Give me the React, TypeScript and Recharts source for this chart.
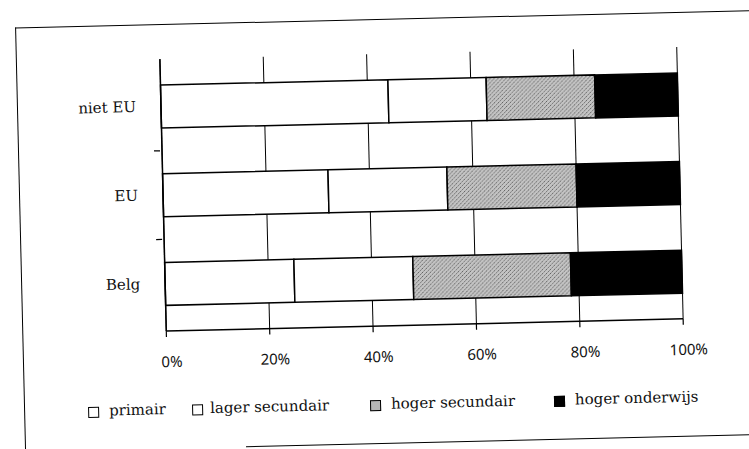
import React from 'react';
import { BarChart, Bar, XAxis, YAxis, CartesianGrid } from 'recharts';

// origin groups, top to bottom
const groups = ['niet EU', 'EU', 'Belg'];

// share per education level (%)
const primair = [44, 32, 25];
const lagerSecundair = [19, 23, 23];
const hogerSecundair = [21, 25, 30.5];
const hogerOnderwijs = [16, 20, 21.5];

const xTicks = [0, 20, 40, 60, 80, 100];

const levels = [
  { key: 'primair', label: 'primair', fill: '#ffffff' },
  { key: 'lagerSecundair', label: 'lager secundair', fill: '#ffffff' },
  { key: 'hogerSecundair', label: 'hoger secundair', fill: 'url(#stipple)' },
  { key: 'hogerOnderwijs', label: 'hoger onderwijs', fill: '#000000' },
];

const chartData = groups.map((name, i) => ({
  name,
  primair: primair[i],
  lagerSecundair: lagerSecundair[i],
  hogerSecundair: hogerSecundair[i],
  hogerOnderwijs: hogerOnderwijs[i],
}));

const serif = '"DejaVu Serif", "Liberation Serif", serif';
const sans = '"Noto Sans", "DejaVu Sans", sans-serif';

const GroupTick = (props: any) => {
  const { x, y, payload } = props;
  const half = payload && payload.offset ? payload.offset : 44;
  return (
    <g>
      <text x={x - 17} y={y} dy={5} textAnchor="end" fontFamily={serif} fontSize={15} fill="#111">
        {payload.value}
      </text>
      {props.index < groups.length - 1 && (
        <line x1={x + 0} x2={x + 6} y1={y + half} y2={y + half} stroke="#000" strokeWidth={1.2} />
      )}
    </g>
  );
};

const PercentTick = (props: any) => {
  const { x, y, payload } = props;
  return (
    <text x={x + 5} y={y} dy={28} textAnchor="middle" fontFamily={sans} fontSize={15} fill="#111">
      {payload.value}%
    </text>
  );
};

// legend positions
const legendItems = [
  { label: levels[0].label, icon: 83, text: 104, fill: '#fff' },
  { label: levels[1].label, icon: 187, text: 205, fill: '#fff' },
  { label: levels[2].label, icon: 365, text: 386, fill: '#b5b5b5' },
  { label: levels[3].label, icon: 549, text: 570, fill: '#000' },
];

const LegendRow = () => (
  <div style={{ position: 'absolute', left: 0, top: 392, width: 749, height: 24 }}>
    {legendItems.map((it) => (
      <React.Fragment key={it.label}>
        <span
          style={{
            position: 'absolute',
            left: it.icon,
            top: 7,
            width: 9,
            height: 9,
            border: '1px solid #000',
            background: it.fill,
          }}
        />
        <span
          style={{
            position: 'absolute',
            left: it.text,
            top: 0,
            whiteSpace: 'nowrap',
            fontFamily: serif,
            fontSize: 15,
            lineHeight: '22px',
            color: '#111',
          }}
        >
          {it.label}
        </span>
      </React.Fragment>
    ))}
  </div>
);

export default function App() {
  return (
    <div style={{ position: 'absolute', left: 0, top: 0, width: 749, height: 449, background: '#fff', overflow: 'hidden' }}>
      {/* the scan is tilted a little */}
      <div
        style={{
          position: 'absolute',
          left: 0,
          top: 0,
          width: 749,
          height: 449,
          transform: 'rotate(-1.35deg)',
          transformOrigin: '421px 189px',
        }}
      >
        <div style={{ position: 'absolute', left: 19, top: 18, width: 760, height: 480, borderLeft: '1.5px solid #000', borderTop: '1.5px solid #000' }} />
        <div style={{ position: 'absolute', left: 240, top: 442, width: 540, borderTop: '1.5px solid #000' }} />
        <div style={{ position: 'absolute', left: 0, top: 0 }}>
          <BarChart
            width={749}
            height={449}
            data={chartData}
            layout="vertical"
            barSize={43}
            margin={{ top: 53, right: 69, bottom: 94, left: 63 }}
          >
            <defs>
              <pattern id="stipple" width="4" height="4" patternUnits="userSpaceOnUse">
                <rect width="4" height="4" fill="#c4c4c4" />
                <rect x="0" y="0" width="1" height="1" fill="#5e5e5e" />
                <rect x="2" y="2" width="1" height="1" fill="#747474" />
                <rect x="3" y="1" width="1" height="1" fill="#8c8c8c" />
                <rect x="1" y="3" width="1" height="1" fill="#9a9a9a" />
              </pattern>
            </defs>
            <CartesianGrid horizontal={false} stroke="#000" strokeWidth={1} />
            <XAxis
              type="number"
              domain={[0, 100]}
              ticks={xTicks}
              height={30}
              axisLine={{ stroke: '#000', strokeWidth: 1.5 }}
              tickLine={{ stroke: '#000', strokeWidth: 1.2 }}
              tickSize={6}
              tick={<PercentTick />}
            />
            <XAxis
              xAxisId="top"
              type="number"
              orientation="top"
              domain={[0, 100]}
              height={0}
              tick={false}
              tickLine={false}
              axisLine={{ stroke: '#000', strokeWidth: 1 }}
            />
            <YAxis
              type="category"
              dataKey="name"
              width={100}
              padding={{ top: 3, bottom: 3 }}
              axisLine={{ stroke: '#000', strokeWidth: 1.5 }}
              tickLine={false}
              tick={<GroupTick />}
              interval={0}
            />
            {levels.map((lv) => (
              <Bar
                key={lv.key}
                dataKey={lv.key}
                name={lv.label}
                stackId="a"
                fill={lv.fill}
                stroke="#000"
                strokeWidth={1.5}
                isAnimationActive={false}
              />
            ))}
          </BarChart>
        </div>
        <LegendRow />
      </div>
    </div>
  );
}
